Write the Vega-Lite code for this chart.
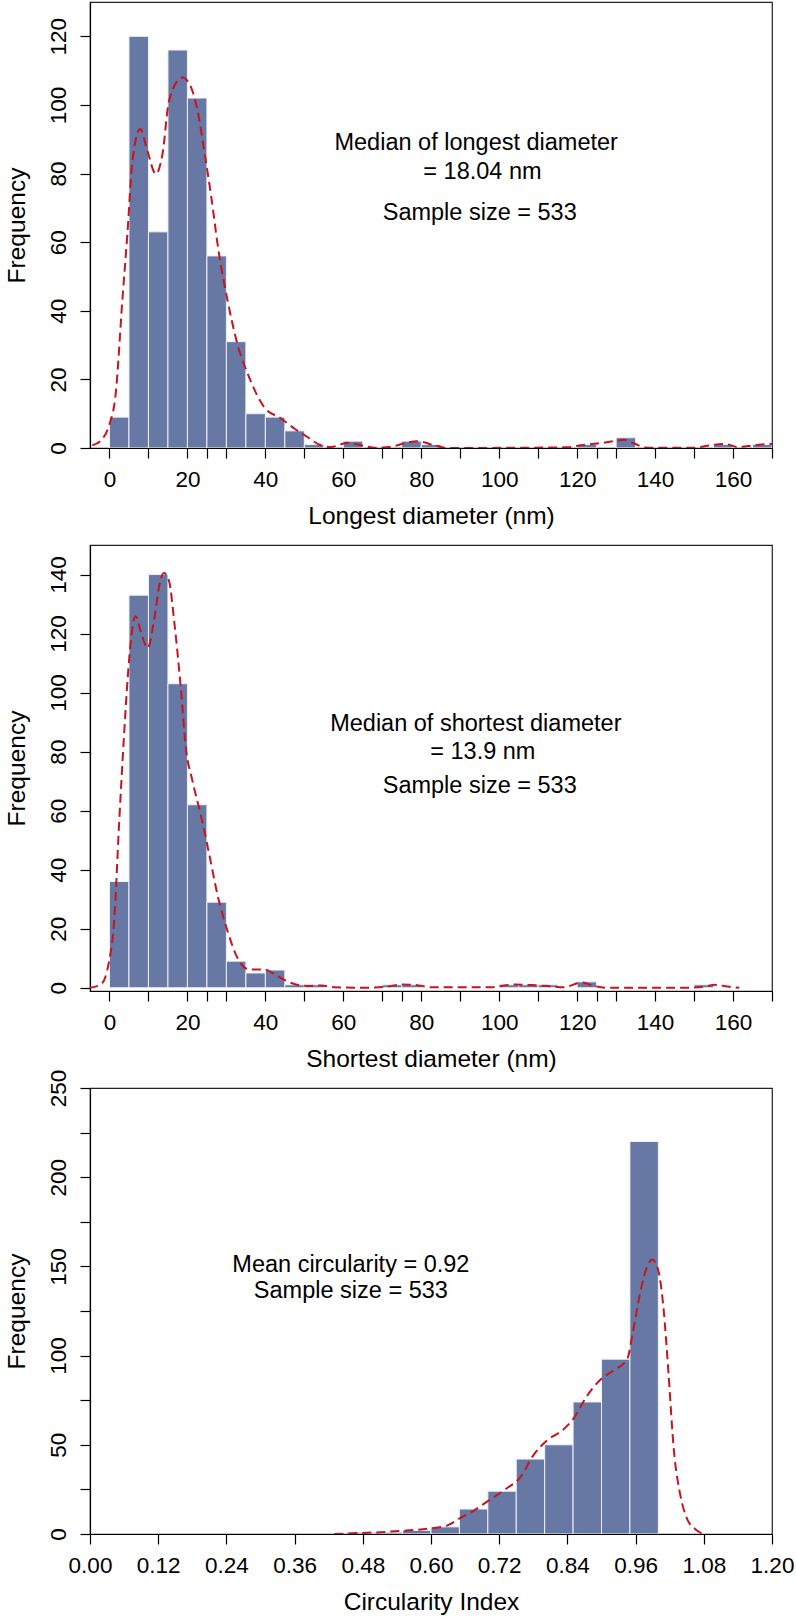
{
  "$schema": "https://vega.github.io/schema/vega-lite/v6.json",
  "padding": {"left": 3, "top": 1, "right": 0, "bottom": 0},
  "spacing": 97,
  "bounds": "flush",
  "datasets": {
    "bars1": [
      {"lo": 0, "hi": 5, "n": 9}, {"lo": 5, "hi": 10, "n": 120}, {"lo": 10, "hi": 15, "n": 63},
      {"lo": 15, "hi": 20, "n": 116}, {"lo": 20, "hi": 25, "n": 102}, {"lo": 25, "hi": 30, "n": 56},
      {"lo": 30, "hi": 35, "n": 31}, {"lo": 35, "hi": 40, "n": 10}, {"lo": 40, "hi": 45, "n": 9},
      {"lo": 45, "hi": 50, "n": 5}, {"lo": 50, "hi": 55, "n": 1}, {"lo": 60, "hi": 65, "n": 2},
      {"lo": 75, "hi": 80, "n": 2}, {"lo": 80, "hi": 85, "n": 1}, {"lo": 120, "hi": 125, "n": 1},
      {"lo": 130, "hi": 135, "n": 3}, {"lo": 155, "hi": 160, "n": 1}, {"lo": 165, "hi": 170, "n": 1}
    ],
    "bars2": [
      {"lo": 0, "hi": 5, "n": 36}, {"lo": 5, "hi": 10, "n": 133}, {"lo": 10, "hi": 15, "n": 140},
      {"lo": 15, "hi": 20, "n": 103}, {"lo": 20, "hi": 25, "n": 62}, {"lo": 25, "hi": 30, "n": 29},
      {"lo": 30, "hi": 35, "n": 9}, {"lo": 35, "hi": 40, "n": 5}, {"lo": 40, "hi": 45, "n": 6},
      {"lo": 45, "hi": 50, "n": 1}, {"lo": 50, "hi": 55, "n": 1}, {"lo": 70, "hi": 75, "n": 1},
      {"lo": 75, "hi": 80, "n": 1}, {"lo": 100, "hi": 105, "n": 1}, {"lo": 105, "hi": 110, "n": 1},
      {"lo": 110, "hi": 115, "n": 1}, {"lo": 120, "hi": 125, "n": 2}, {"lo": 150, "hi": 155, "n": 1}
    ],
    "bars3": [
      {"lo": 0.45, "hi": 0.5, "n": 1}, {"lo": 0.5, "hi": 0.55, "n": 1}, {"lo": 0.55, "hi": 0.6, "n": 2},
      {"lo": 0.6, "hi": 0.65, "n": 4}, {"lo": 0.65, "hi": 0.7, "n": 14}, {"lo": 0.7, "hi": 0.75, "n": 24},
      {"lo": 0.75, "hi": 0.8, "n": 42}, {"lo": 0.8, "hi": 0.85, "n": 50}, {"lo": 0.85, "hi": 0.9, "n": 74},
      {"lo": 0.9, "hi": 0.95, "n": 98}, {"lo": 0.95, "hi": 1.0, "n": 220}
    ],
    "dens1": [
      {"x": -4.4, "d": 0.8}, {"x": -2.2, "d": 2.2}, {"x": -0.1, "d": 6.6}, {"x": 1.6, "d": 15.9},
      {"x": 3.3, "d": 43}, {"x": 4.6, "d": 62.5}, {"x": 5.9, "d": 83.8}, {"x": 7.9, "d": 93},
      {"x": 9.7, "d": 86.7}, {"x": 11.9, "d": 79.9}, {"x": 13.6, "d": 85.7}, {"x": 15.3, "d": 101.3},
      {"x": 18.7, "d": 108}, {"x": 20.9, "d": 105.2}, {"x": 22.6, "d": 98.4}, {"x": 24.3, "d": 86.7},
      {"x": 26, "d": 74.1}, {"x": 28.1, "d": 56.6}, {"x": 30.3, "d": 43}, {"x": 32.8, "d": 30.4},
      {"x": 35.8, "d": 20.7}, {"x": 39.7, "d": 11.9}, {"x": 44, "d": 8.6}, {"x": 47.4, "d": 5.7},
      {"x": 50.8, "d": 3.2}, {"x": 54.2, "d": 0.8}, {"x": 56.8, "d": 0.3}, {"x": 61.1, "d": 1.5},
      {"x": 64.5, "d": 0.8}, {"x": 67.9, "d": 0.1}, {"x": 72, "d": 0.3}, {"x": 75.5, "d": 1.3},
      {"x": 79, "d": 2}, {"x": 83.3, "d": 0.8}, {"x": 86.7, "d": 0}, {"x": 117.5, "d": 0.2},
      {"x": 121, "d": 0.8}, {"x": 125.2, "d": 1.3}, {"x": 129.5, "d": 2}, {"x": 132, "d": 2.4},
      {"x": 134.6, "d": 1.3}, {"x": 138, "d": 0.1}, {"x": 150, "d": 0.1}, {"x": 154.3, "d": 0.8},
      {"x": 157.7, "d": 1.2}, {"x": 161.2, "d": 0.3}, {"x": 165.4, "d": 0.8}, {"x": 169.7, "d": 1.2},
      {"x": 172, "d": 1.2}
    ],
    "dens2": [
      {"x": -5.2, "d": 0}, {"x": -2.2, "d": 1.1}, {"x": -0.1, "d": 9}, {"x": 1.2, "d": 22.6},
      {"x": 2.5, "d": 56.4}, {"x": 3.7, "d": 84.7}, {"x": 5, "d": 110.6}, {"x": 6.7, "d": 125.9},
      {"x": 8, "d": 120.8}, {"x": 9.8, "d": 115.1}, {"x": 11.4, "d": 124.2}, {"x": 13, "d": 137.7},
      {"x": 14, "d": 140.5}, {"x": 15.3, "d": 137.7}, {"x": 16.6, "d": 124.2}, {"x": 18.3, "d": 101.6},
      {"x": 19.6, "d": 81.3}, {"x": 21.3, "d": 70}, {"x": 23.4, "d": 58.7}, {"x": 25.6, "d": 45.2},
      {"x": 27.7, "d": 31.6}, {"x": 30.3, "d": 19.2}, {"x": 32.8, "d": 10.2}, {"x": 35.8, "d": 6.2},
      {"x": 39.7, "d": 6.2}, {"x": 43.1, "d": 4}, {"x": 46.5, "d": 1.7}, {"x": 50.8, "d": 0.6},
      {"x": 54.2, "d": 0.8}, {"x": 57.6, "d": 0.2}, {"x": 66.2, "d": 0}, {"x": 71.3, "d": 0.4},
      {"x": 75, "d": 1.1}, {"x": 78.2, "d": 1.0}, {"x": 82.4, "d": 0.2}, {"x": 97.8, "d": 0.2},
      {"x": 103.8, "d": 1.1}, {"x": 108.1, "d": 0.9}, {"x": 112.4, "d": 0.6}, {"x": 116.7, "d": 0.2},
      {"x": 121, "d": 1.8}, {"x": 124.4, "d": 0.6}, {"x": 127.8, "d": 0}, {"x": 148.3, "d": 0},
      {"x": 153.5, "d": 0.6}, {"x": 155.2, "d": 1.0}, {"x": 158.6, "d": 0.4}, {"x": 161.6, "d": 0}
    ],
    "dens3": [
      {"x": 0.43, "d": 0}, {"x": 0.47, "d": 0.5}, {"x": 0.51, "d": 1.0}, {"x": 0.55, "d": 1.8},
      {"x": 0.598, "d": 3.1}, {"x": 0.628, "d": 4.7}, {"x": 0.651, "d": 8.9}, {"x": 0.675, "d": 13},
      {"x": 0.704, "d": 19.3}, {"x": 0.733, "d": 25.5}, {"x": 0.757, "d": 31.7}, {"x": 0.78, "d": 44.1},
      {"x": 0.804, "d": 52.4}, {"x": 0.833, "d": 58.6}, {"x": 0.851, "d": 64.8}, {"x": 0.874, "d": 77.2},
      {"x": 0.898, "d": 86.5}, {"x": 0.921, "d": 91.7}, {"x": 0.945, "d": 97.9}, {"x": 0.956, "d": 114.5},
      {"x": 0.968, "d": 135.2}, {"x": 0.98, "d": 149.7}, {"x": 0.989, "d": 153.8}, {"x": 1.0, "d": 147.6},
      {"x": 1.009, "d": 126.9}, {"x": 1.018, "d": 89.6}, {"x": 1.027, "d": 48.2}, {"x": 1.039, "d": 21.3},
      {"x": 1.05, "d": 8.9}, {"x": 1.065, "d": 2.7}, {"x": 1.08, "d": 0}
    ]
  },
  "vconcat": [
    {
      "width": 682,
      "height": 446,
      "resolve": {"axis": {"x": "independent"}},
      "layer": [
        {
          "data": {"name": "bars1"},
          "mark": {"type": "rect", "fill": "#6778a4", "stroke": "#eef1f7", "strokeWidth": 1, "clip": true},
          "encoding": {
            "x": {"field": "lo", "type": "quantitative", "title": "Longest diameter (nm)",
              "scale": {"domain": [-5, 170], "nice": false, "zero": false},
              "axis": {"orient": "bottom", "values": [0, 10, 20, 30, 40, 50, 60, 70, 80, 90, 100, 110, 120, 130, 140, 150, 160, 170],
                "labelExpr": "datum.value % 20 == 0 && datum.value <= 160 ? datum.label : ''"}},
            "x2": {"field": "hi"},
            "y": {"field": "n", "type": "quantitative", "title": "Frequency",
              "scale": {"domain": [0, 130], "nice": false},
              "axis": {"values": [0, 10, 20, 30, 40, 50, 60, 70, 80, 90, 100, 110, 120],
                "labelExpr": "datum.value % 20 == 0 ? datum.label : ''"}},
            "y2": {"datum": 0}
          }
        },
        {
          "data": {"name": "dens1"},
          "mark": {"type": "line", "color": "#c8141e", "strokeWidth": 2, "strokeDash": [9, 5], "interpolate": "monotone", "clip": true},
          "encoding": {
            "x": {"field": "x", "type": "quantitative", "title": null,
              "axis": {"orient": "bottom", "values": [25, 75, 125], "labels": false, "domain": false, "title": null}},
            "y": {"field": "d", "type": "quantitative", "title": "Frequency"}
          }
        },
        {
          "data": {"values": [{}]},
          "mark": {"type": "text", "text": "Median of longest diameter", "fontSize": 23.5, "align": "center", "baseline": "middle"},
          "encoding": {"x": {"datum": 94.1, "type": "quantitative", "axis": null}, "y": {"datum": 88.9, "type": "quantitative"}}
        },
        {
          "data": {"values": [{}]},
          "mark": {"type": "text", "text": "= 18.04 nm", "fontSize": 23.5, "align": "center", "baseline": "middle"},
          "encoding": {"x": {"datum": 95.7, "type": "quantitative", "axis": null}, "y": {"datum": 80.4, "type": "quantitative"}}
        },
        {
          "data": {"values": [{}]},
          "mark": {"type": "text", "text": "Sample size = 533", "fontSize": 23.5, "align": "center", "baseline": "middle"},
          "encoding": {"x": {"datum": 95.0, "type": "quantitative", "axis": null}, "y": {"datum": 68.4, "type": "quantitative"}}
        }
      ]
    },
    {
      "width": 682,
      "height": 446,
      "resolve": {"axis": {"x": "independent"}},
      "layer": [
        {
          "data": {"name": "bars2"},
          "mark": {"type": "rect", "fill": "#6778a4", "stroke": "#eef1f7", "strokeWidth": 1, "clip": true},
          "encoding": {
            "x": {"field": "lo", "type": "quantitative", "title": "Shortest diameter (nm)",
              "scale": {"domain": [-5, 170], "nice": false, "zero": false},
              "axis": {"orient": "bottom", "values": [0, 10, 20, 30, 40, 50, 60, 70, 80, 90, 100, 110, 120, 130, 140, 150, 160, 170],
                "labelExpr": "datum.value % 20 == 0 && datum.value <= 160 ? datum.label : ''"}},
            "x2": {"field": "hi"},
            "y": {"field": "n", "type": "quantitative", "title": "Frequency",
              "scale": {"domain": [-1.1, 150], "nice": false, "zero": false},
              "axis": {"values": [0, 10, 20, 30, 40, 50, 60, 70, 80, 90, 100, 110, 120, 130, 140],
                "labelExpr": "datum.value % 20 == 0 ? datum.label : ''"}},
            "y2": {"datum": 0}
          }
        },
        {
          "data": {"name": "dens2"},
          "mark": {"type": "line", "color": "#c8141e", "strokeWidth": 2, "strokeDash": [9, 5], "interpolate": "monotone", "clip": true},
          "encoding": {
            "x": {"field": "x", "type": "quantitative", "title": null,
              "axis": {"orient": "bottom", "values": [25, 75, 125], "labels": false, "domain": false, "title": null}},
            "y": {"field": "d", "type": "quantitative", "title": "Frequency"}
          }
        },
        {
          "data": {"values": [{}]},
          "mark": {"type": "text", "text": "Median of shortest diameter", "fontSize": 23.5, "align": "center", "baseline": "middle"},
          "encoding": {"x": {"datum": 94.0, "type": "quantitative", "axis": null}, "y": {"datum": 89.2, "type": "quantitative"}}
        },
        {
          "data": {"values": [{}]},
          "mark": {"type": "text", "text": "= 13.9 nm", "fontSize": 23.5, "align": "center", "baseline": "middle"},
          "encoding": {"x": {"datum": 95.8, "type": "quantitative", "axis": null}, "y": {"datum": 79.9, "type": "quantitative"}}
        },
        {
          "data": {"values": [{}]},
          "mark": {"type": "text", "text": "Sample size = 533", "fontSize": 23.5, "align": "center", "baseline": "middle"},
          "encoding": {"x": {"datum": 95.0, "type": "quantitative", "axis": null}, "y": {"datum": 68.3, "type": "quantitative"}}
        }
      ]
    },
    {
      "width": 682,
      "height": 446,
      "layer": [
        {
          "data": {"name": "bars3"},
          "mark": {"type": "rect", "fill": "#6778a4", "stroke": "#eef1f7", "strokeWidth": 1, "clip": true},
          "encoding": {
            "x": {"field": "lo", "type": "quantitative", "title": "Circularity Index",
              "scale": {"domain": [0, 1.2], "nice": false, "zero": false},
              "axis": {"values": [0, 0.1, 0.12, 0.2, 0.24, 0.3, 0.36, 0.4, 0.48, 0.5, 0.6, 0.7, 0.72, 0.8, 0.84, 0.9, 0.96, 1.0, 1.08, 1.1, 1.2],
                "labelExpr": "round(datum.value * 100) % 12 == 0 ? format(datum.value, '.2f') : ''"}},
            "x2": {"field": "hi"},
            "y": {"field": "n", "type": "quantitative", "title": "Frequency",
              "scale": {"domain": [0, 250], "nice": false},
              "axis": {"values": [0, 25, 50, 75, 100, 125, 150, 175, 200, 225, 250],
                "labelExpr": "datum.value % 50 == 0 ? datum.label : ''"}},
            "y2": {"datum": 0}
          }
        },
        {
          "data": {"name": "dens3"},
          "mark": {"type": "line", "color": "#c8141e", "strokeWidth": 2, "strokeDash": [9, 5], "interpolate": "monotone", "clip": true},
          "encoding": {
            "x": {"field": "x", "type": "quantitative", "title": "Circularity Index"},
            "y": {"field": "d", "type": "quantitative", "title": "Frequency"}
          }
        },
        {
          "data": {"values": [{}]},
          "mark": {"type": "text", "text": "Mean circularity = 0.92", "fontSize": 23.5, "align": "center", "baseline": "middle"},
          "encoding": {"x": {"datum": 0.459, "type": "quantitative"}, "y": {"datum": 150.7, "type": "quantitative"}}
        },
        {
          "data": {"values": [{}]},
          "mark": {"type": "text", "text": "Sample size = 533", "fontSize": 23.5, "align": "center", "baseline": "middle"},
          "encoding": {"x": {"datum": 0.459, "type": "quantitative"}, "y": {"datum": 136.1, "type": "quantitative"}}
        }
      ]
    }
  ],
  "config": {
    "font": "Liberation Sans",
    "text": {"font": "Liberation Sans", "color": "#000"},
    "view": {"stroke": "#222", "strokeWidth": 1.2},
    "axis": {
      "grid": false,
      "labelFont": "Liberation Sans",
      "labelFontSize": 22.5,
      "labelColor": "#000",
      "titleFont": "Liberation Sans",
      "titleFontSize": 24.5,
      "titleFontWeight": "normal",
      "titleColor": "#000",
      "domainColor": "#000",
      "domainWidth": 1.2,
      "tickColor": "#000",
      "tickWidth": 1.2,
      "tickSize": 10,
      "labelFlush": false,
      "labelBound": false
    },
    "axisX": {"labelPadding": 10, "titlePadding": 14},
    "axisY": {"labelAngle": -90, "labelAlign": "center", "labelBaseline": "bottom", "labelPadding": 10, "titlePadding": 18}
  }
}
